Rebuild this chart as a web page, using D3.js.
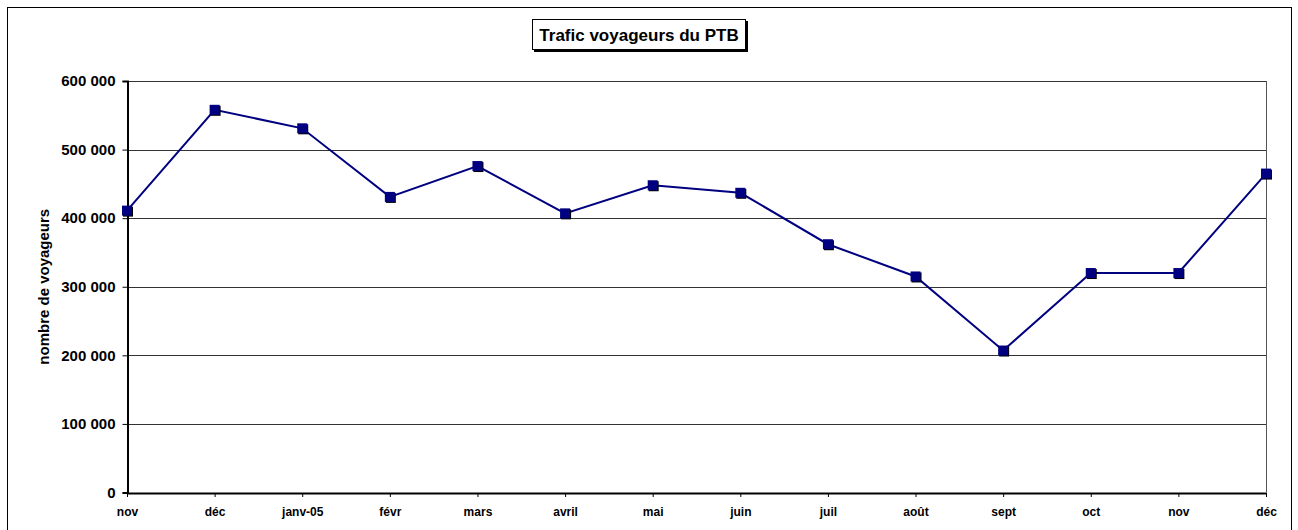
<!DOCTYPE html>
<html>
<head>
<meta charset="utf-8">
<title>Trafic voyageurs du PTB</title>
<script src="https://d3js.org/d3.v7.min.js"></script>
<style>
  body { margin: 0; background: #fff; font-family: "Liberation Sans", Arial, sans-serif; }
  svg text { font-weight: bold; fill: #000; }
</style>
</head>
<body>
<svg id="chart"></svg>
<script>
  // Data
  var months = ["nov", "déc", "janv-05", "févr", "mars", "avril", "mai", "juin", "juil", "août", "sept", "oct", "nov", "déc"];
  var voyageurs = [411000, 558000, 531000, 431000, 476000, 407000, 448000, 437000, 362000, 315000, 207000, 320000, 320000, 465000];
  var yTicks = [0, 100000, 200000, 300000, 400000, 500000, 600000];

  var width = 1298, height = 530;
  var margin = { left: 127, right: 32, top: 81, bottom: 38 };

  var svg = d3.select("#chart").attr("width", width).attr("height", height);

  // outer chart border
  svg.append("rect")
    .attr("x", 7.5).attr("y", 7.5)
    .attr("width", 1284).attr("height", 540)
    .attr("fill", "none").attr("stroke", "#000").attr("stroke-width", 1);

  // scales (index based so that both "nov" / "déc" keep their own slot)
  var x = d3.scalePoint()
    .domain(d3.range(months.length))
    .range([margin.left, width - margin.right]);
  var y = d3.scaleLinear()
    .domain([0, 600000])
    .range([height - margin.bottom + 0.5, margin.top]);

  var fmt = function (d) { return d3.format(",")(d).replace(/,/g, " "); };

  // gridlines
  svg.append("g").selectAll("line")
    .data(yTicks.slice(1))
    .enter().append("line")
    .attr("x1", margin.left).attr("x2", width - margin.right)
    .attr("y1", function (d) { return Math.round(y(d)) + 0.5; })
    .attr("y2", function (d) { return Math.round(y(d)) + 0.5; })
    .attr("stroke", "#333").attr("stroke-width", 1);

  // right border of plot area
  svg.append("line")
    .attr("x1", width - margin.right + 0.5).attr("x2", width - margin.right + 0.5)
    .attr("y1", y(600000)).attr("y2", y(0))
    .attr("stroke", "#555");

  // y axis
  var yAxis = svg.append("g")
    .attr("transform", "translate(" + (margin.left + 0.5) + ",0)")
    .call(d3.axisLeft(y).tickValues(yTicks).tickFormat(fmt).tickSize(5).tickPadding(7));
  yAxis.select(".domain").attr("stroke", "#000").attr("stroke-width", 2);
  yAxis.selectAll(".tick line").attr("stroke", "#000");
  yAxis.selectAll("text").style("font-size", "15px").style("font-weight", "bold").attr("fill", "#000");

  // x axis
  var xAxis = svg.append("g")
    .attr("transform", "translate(0," + Math.round(y(0)) + ")")
    .call(d3.axisBottom(x).tickFormat(function (i) { return months[i]; }).tickSize(4).tickSizeOuter(0).tickPadding(10));
  xAxis.select(".domain").attr("stroke", "#000").attr("stroke-width", 2);
  xAxis.selectAll(".tick line").attr("stroke", "#000");
  xAxis.selectAll("text").style("font-size", "12px").style("font-weight", "bold").attr("fill", "#000");

  // y axis title
  svg.append("text")
    .attr("transform", "translate(49," + ((y(0) + y(600000)) / 2) + ")rotate(-90)")
    .attr("text-anchor", "middle")
    .style("font-size", "15px")
    .text("nombre de voyageurs");

  // series line
  var line = d3.line()
    .x(function (d, i) { return x(i); })
    .y(function (d) { return y(d); });
  svg.append("path")
    .datum(voyageurs)
    .attr("d", line)
    .attr("fill", "none")
    .attr("stroke", "#000080")
    .attr("stroke-width", 2);

  // markers with small shadow
  var mk = svg.append("g").selectAll("g")
    .data(voyageurs)
    .enter().append("g")
    .attr("transform", function (d, i) { return "translate(" + x(i) + "," + y(d) + ")"; });
  mk.append("rect")
    .attr("x", -4).attr("y", -4).attr("width", 10).attr("height", 10)
    .attr("fill", "#000");
  mk.append("rect")
    .attr("x", -5).attr("y", -5).attr("width", 10).attr("height", 10)
    .attr("fill", "#000080");

  // title box
  var tb = svg.append("g");
  tb.append("rect")
    .attr("x", 534).attr("y", 21).attr("width", 214).attr("height", 31)
    .attr("fill", "#000");
  tb.append("rect")
    .attr("x", 532.5).attr("y", 19.5).attr("width", 213).attr("height", 30)
    .attr("fill", "#fff").attr("stroke", "#000");
  tb.append("text")
    .attr("x", 639).attr("y", 41)
    .attr("text-anchor", "middle")
    .style("font-size", "17px")
    .text("Trafic voyageurs du PTB");
</script>
</body>
</html>
